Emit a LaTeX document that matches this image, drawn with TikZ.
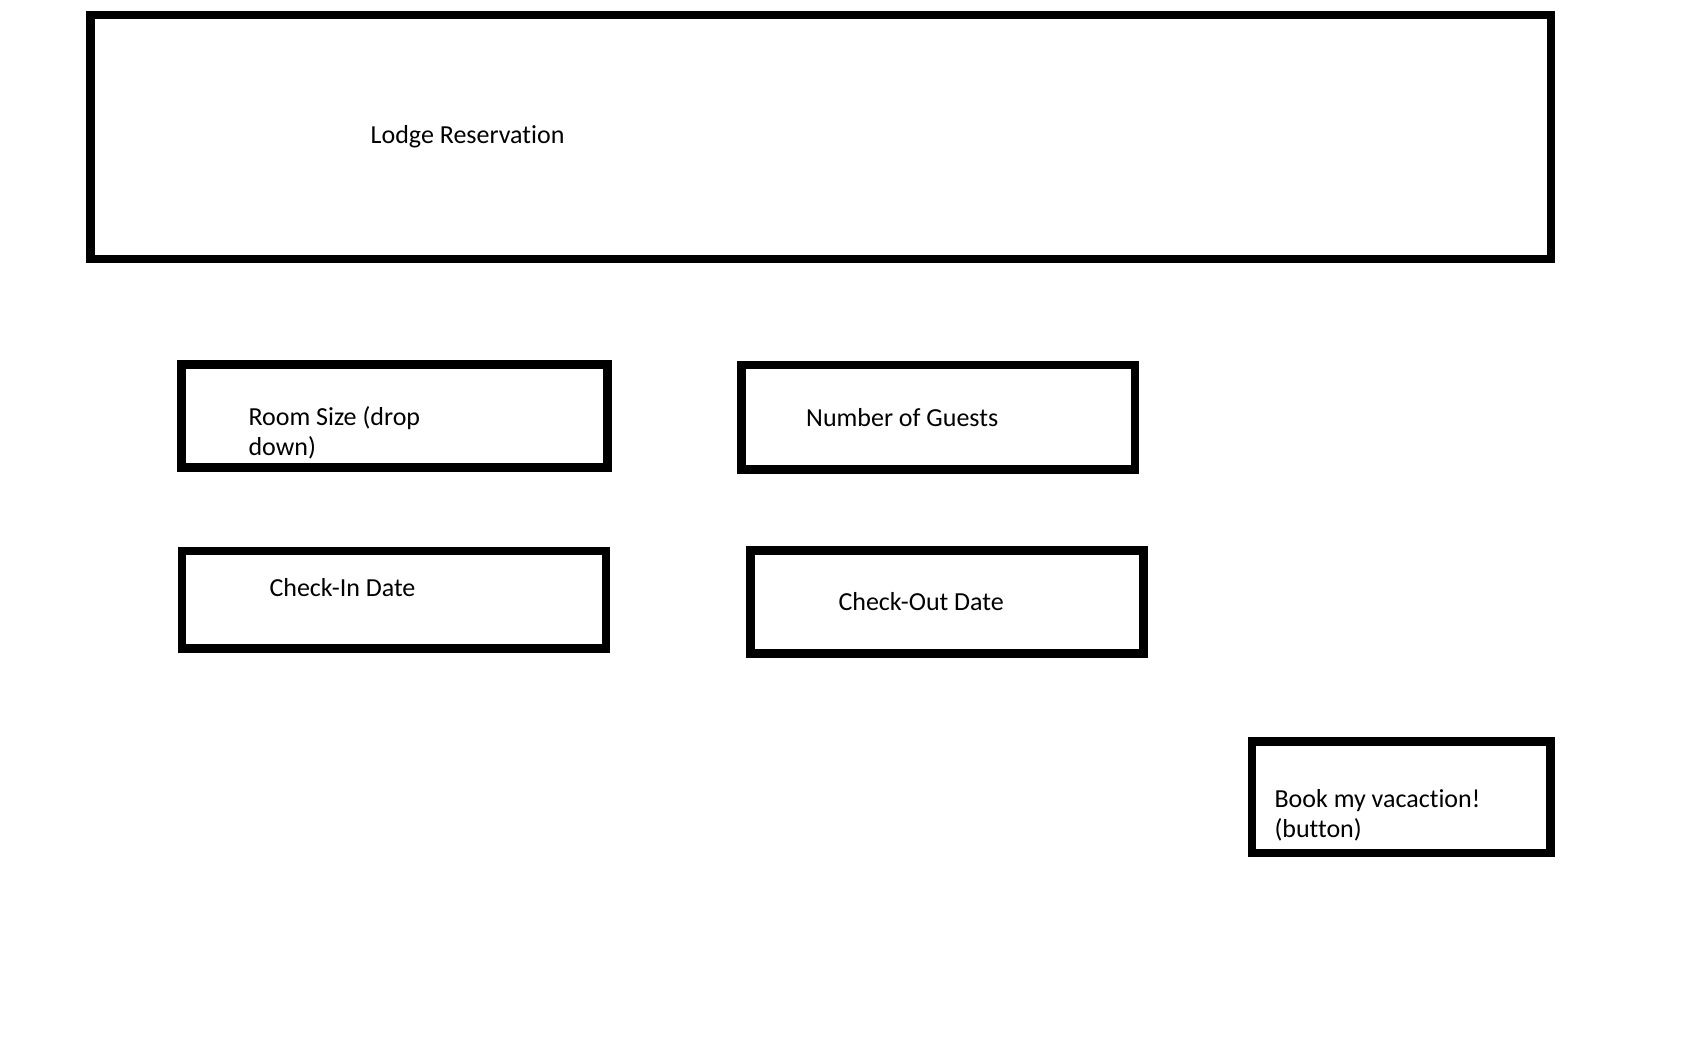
\documentclass[tikz,border=0pt]{standalone}
\usepackage{fontspec}
\setmainfont{Carlito}[Ligatures=NoCommon]
\begin{document}
\begin{tikzpicture}[x=1pt,y=-1pt,
  box/.style={draw=black,line width=8.5pt,rectangle,inner sep=0pt},
  label/.style={anchor=base west,inner sep=0pt,align=left,
    font=\fontsize{26}{30}\selectfont,text=black}]
  \useasboundingbox[fill=white] (0,0) rectangle (1688,1048);

  % page header
  \node[box,minimum width=1460.5pt,minimum height=244pt] (header) at (820.75,137) {};
  \node[label] (headertext) at (370.5,143.5) {Lodge Reservation};

  % form fields (multi-line labels are placed by their last baseline)
  \node[box,minimum width=426pt,minimum height=103pt] (roomsize) at (394.7,416.2) {};
  \node[label] (roomsizetext) at (248.3,455) {Room Size (drop\\down)};

  \node[box,minimum width=393.3pt,minimum height=104.3pt] (guests) at (938.3,417.2) {};
  \node[label] (gueststext) at (806,426) {Number of Guests};

  \node[box,minimum width=424pt,minimum height=97.5pt] (checkin) at (393.75,599.5) {};
  \node[label] (checkintext) at (269.3,596.7) {Check-In Date};

  \node[box,minimum width=393.2pt,minimum height=103pt] (checkout) at (947.1,602.2) {};
  \node[label] (checkouttext) at (838.3,610) {Check-Out Date};

  % submit button
  \node[box,minimum width=298.3pt,minimum height=111.3pt] (book) at (1401.2,797.3) {};
  \node[label] (booktext) at (1274.3,837.5) {Book my vacaction!\\(button)};
\end{tikzpicture}
\end{document}
